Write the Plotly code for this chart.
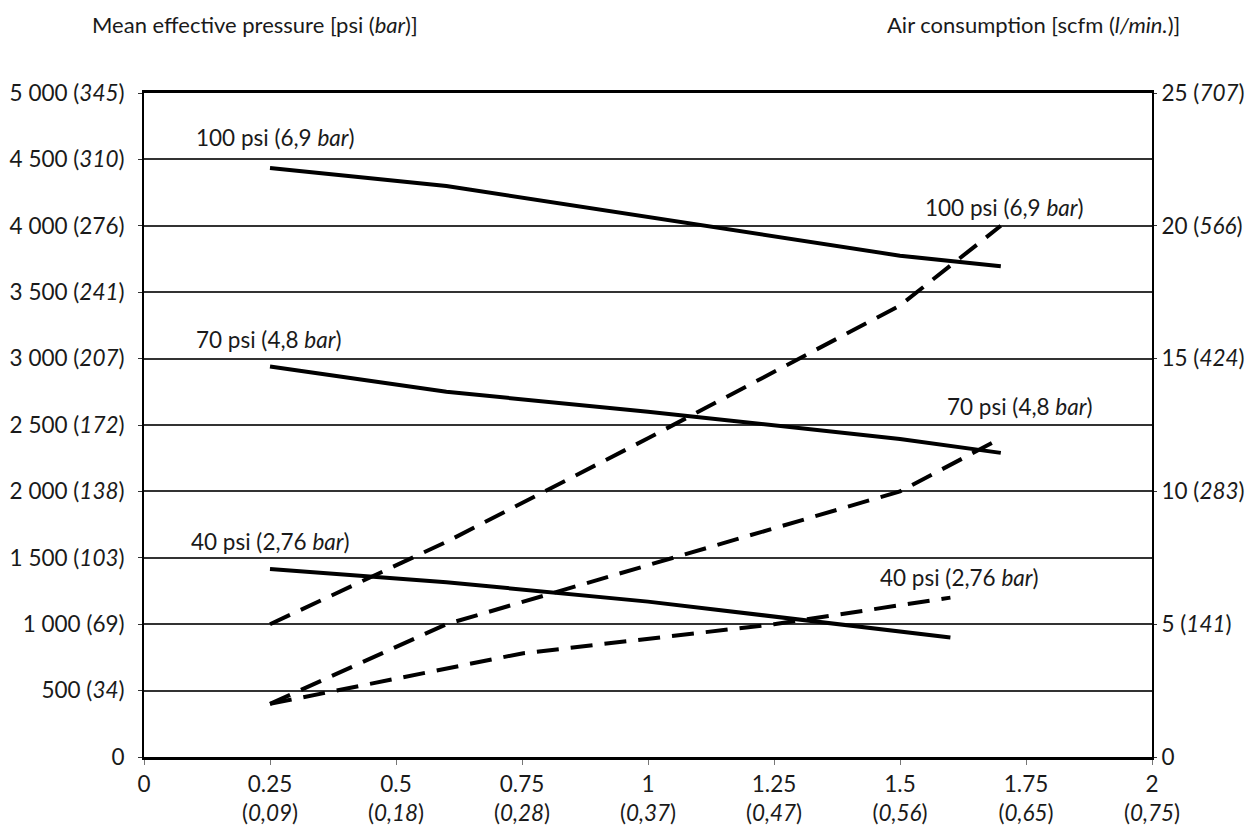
import plotly.graph_objects as go

# ---- data ----
x_ticks = [0, 0.25, 0.5, 0.75, 1, 1.25, 1.5, 1.75, 2]
x_ticks_metric = ["", "0,09", "0,18", "0,28", "0,37", "0,47", "0,56", "0,65", "0,75"]

y_left_ticks = [0, 500, 1000, 1500, 2000, 2500, 3000, 3500, 4000, 4500, 5000]
y_left_bar = ["", "34", "69", "103", "138", "172", "207", "241", "276", "310", "345"]
y_left_italic = [False, True, False, True, True, True, True, True, False, True, True]

y_right_ticks = [0, 5, 10, 15, 20, 25]
y_right_lmin = ["", "141", "283", "424", "566", "707"]

# Mean effective pressure (left axis, solid)
mep_100_x = [0.25, 0.6, 1.5, 1.7]
mep_100_y = [4435, 4300, 3775, 3695]
mep_70_x = [0.25, 0.6, 1.0, 1.5, 1.7]
mep_70_y = [2940, 2750, 2600, 2395, 2290]
mep_40_x = [0.25, 0.6, 1.0, 1.5, 1.6]
mep_40_y = [1415, 1316, 1170, 947, 900]

# Air consumption (right axis, dashed)
air_100_x = [0.25, 0.6, 1.0, 1.5, 1.7]
air_100_y = [5.0, 8.1, 12.0, 17.0, 20.0]
air_70_x = [0.25, 0.6, 1.5, 1.7]
air_70_y = [2.0, 5.0, 10.0, 12.0]
air_40_x = [0.25, 0.75, 1.25, 1.5, 1.6]
air_40_y = [2.0, 3.9, 5.0, 5.7, 6.0]

FONT = "Lato"
FS = 22.5
FS_TITLE = 22
TXT = "#1a1a1a"
WEIGHT = 400

x_text = []
for v, m in zip(x_ticks, x_ticks_metric):
    s = f"{v:g}"
    if m:
        s += f"<br>(<i>{m}</i>)"
    x_text.append(s)

yl_text = []
for v, b, it in zip(y_left_ticks, y_left_bar, y_left_italic):
    s = f"{v:,}".replace(",", " ")
    if b:
        s += f" (<i>{b}</i>)" if it else f" ({b})"
    yl_text.append(s)

yr_text = []
for v, b in zip(y_right_ticks, y_right_lmin):
    s = f"{v}"
    if b:
        s += f" (<i>{b}</i>)"
    yr_text.append(s)

fig = go.Figure()
solid = dict(color="black", width=4)
dashed = dict(color="black", width=4, dash="22px,12px")
for xs, ys in [(mep_100_x, mep_100_y), (mep_70_x, mep_70_y), (mep_40_x, mep_40_y)]:
    fig.add_trace(go.Scatter(x=xs, y=ys, mode="lines", line=solid, yaxis="y", showlegend=False))
for xs, ys in [(air_100_x, air_100_y), (air_70_x, air_70_y), (air_40_x, air_40_y)]:
    fig.add_trace(go.Scatter(x=xs, y=ys, mode="lines", line=dashed, yaxis="y2", showlegend=False))

font_txt = dict(family=FONT, size=FS, color=TXT, weight=WEIGHT)

labels_left = [
    (0.10, 4663, "100 psi (6,9 <i>bar</i>)"),
    (0.10, 3141, "70 psi (4,8 <i>bar</i>)"),
    (0.09, 1625, "40 psi (2,76 <i>bar</i>)"),
]
labels_right = [
    (1.545, 20.7, "100 psi (6,9 <i>bar</i>)"),
    (1.589, 13.2, "70 psi (4,8 <i>bar</i>)"),
    (1.456, 6.77, "40 psi (2,76 <i>bar</i>)"),
]
for x, y, t in labels_left:
    fig.add_annotation(x=x, y=y, xref="x", yref="y", text=t, showarrow=False,
                       xanchor="left", yanchor="middle", font=font_txt)
for x, y, t in labels_right:
    fig.add_annotation(x=x, y=y, xref="x", yref="y2", text=t, showarrow=False,
                       xanchor="left", yanchor="middle", font=font_txt)

# page has an 8px body margin; figure sized to fit the 1260x827 window
OFF = 8
W, H = 1260 - OFF, 827 - OFF
L, T = 144 - OFF, 93 - OFF
pw, ph = 1008, 664
R, B = W - L - pw, H - T - ph


def px_to_paper(px, py):
    fx, fy = px - OFF, py - OFF
    return (fx - L) / pw, (H - fy - B) / ph


font_title = dict(family=FONT, size=FS_TITLE, color=TXT, weight=WEIGHT)
tx, ty = px_to_paper(90, 24)
fig.add_annotation(x=tx, y=ty, xref="paper", yref="paper", text="Mean effective pressure [psi (<i>bar</i>)]",
                   showarrow=False, xanchor="left", yanchor="middle", font=font_title)
tx, ty = px_to_paper(1182, 24)
fig.add_annotation(x=tx, y=ty, xref="paper", yref="paper", text="Air consumption [scfm (<i>l/min.</i>)]",
                   showarrow=False, xanchor="right", yanchor="middle", font=font_title)

fig.update_layout(
    width=W, height=H,
    margin=dict(l=L, r=R, t=T, b=B, autoexpand=False),
    paper_bgcolor="white", plot_bgcolor="white",
    font=font_txt,
    xaxis=dict(range=[0, 2], tickvals=x_ticks, ticktext=x_text, showgrid=False, zeroline=False,
               showline=True, linecolor="black", linewidth=3, mirror=True,
               ticks="outside", ticklen=5, tickcolor="#777", tickwidth=1, ticklabelstandoff=0,
               tickfont=font_txt),
    yaxis=dict(range=[0, 5000], tickvals=y_left_ticks, ticktext=yl_text, showgrid=True,
               gridcolor="#333", gridwidth=1.6, zeroline=False,
               showline=True, linecolor="black", linewidth=2,
               ticks="outside", ticklen=4, tickcolor="#333", ticklabelstandoff=9,
               tickfont=font_txt),
    yaxis2=dict(range=[0, 25], tickvals=y_right_ticks, ticktext=yr_text, overlaying="y", side="right",
                showgrid=False, zeroline=False, showline=True, linecolor="black", linewidth=2,
                ticks="outside", ticklen=3, tickcolor="#333", ticklabelstandoff=0,
                tickfont=font_txt),
)

fig.write_html("out.html")
